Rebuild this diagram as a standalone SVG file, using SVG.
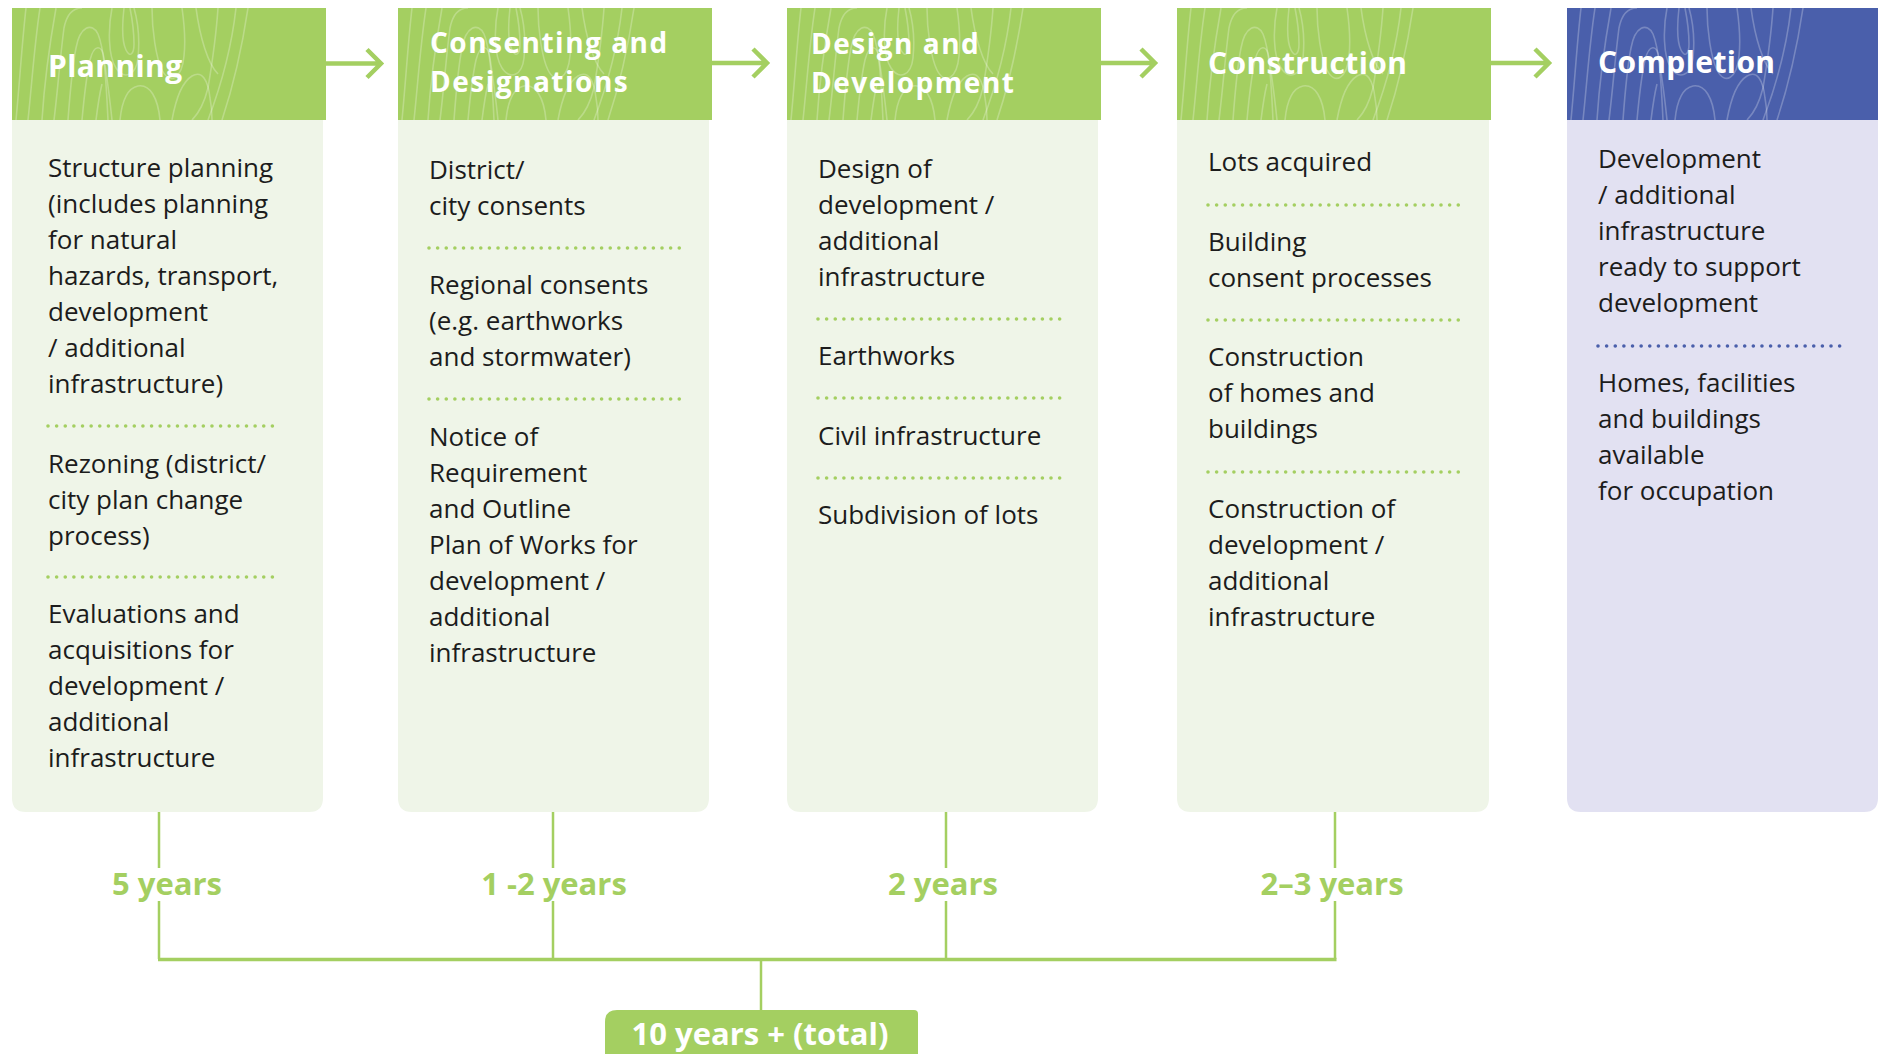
<svg xmlns="http://www.w3.org/2000/svg" xmlns:xlink="http://www.w3.org/1999/xlink" width="1878" height="1054" viewBox="0 0 1878 1054">
<style>
.hg{fill:#a4cf61}
.hb{fill:#4a5fab}
.bg{fill:#eff5e8}
.bb{fill:#e2e1f2}
.ht{font-family:"Open Sans","Liberation Sans",sans-serif;font-weight:700;font-size:30px;letter-spacing:0.4px;fill:#ffffff}
.ht2{font-family:"Open Sans","Liberation Sans",sans-serif;font-weight:700;font-size:28px;letter-spacing:1.5px;fill:#ffffff}
.bt{font-family:"Open Sans","Liberation Sans",sans-serif;font-size:26px;fill:#1c1c1c}
.dg{stroke:#a4cf61;stroke-width:3.6;stroke-linecap:round;stroke-dasharray:0 8.63;fill:none}
.db{stroke:#4a5fab;stroke-width:3.6;stroke-linecap:round;stroke-dasharray:0 8.63;fill:none}
.arr{stroke:#a4cf61;stroke-width:4.5;fill:none;stroke-linejoin:miter}
.tl{stroke:#a4cf61;stroke-width:2.5;fill:none}
.yr{font-family:"Open Sans","Liberation Sans",sans-serif;font-weight:700;font-size:31px;fill:#a4cf61;text-anchor:middle}
.tot{font-family:"Open Sans","Liberation Sans",sans-serif;font-weight:700;font-size:31px;fill:#ffffff;text-anchor:middle}
</style>
<defs>
<symbol id="grain" viewBox="0 0 314 112" width="314" height="112">
<g fill="none" stroke="#ffffff" stroke-opacity="0.25" stroke-width="1.6">
<path d="M4 112 C8 70 10 35 14 0"/>
<path d="M16 112 C20 75 22 40 28 0"/>
<path d="M30 112 C32 80 36 45 44 0"/>
<path d="M42 112 C46 80 48 50 52 20 C55 5 62 0 70 0"/>
<path d="M56 112 C58 85 60 60 64 40 C68 18 80 14 86 26 C92 40 94 70 96 112"/>
<path d="M70 112 C72 90 74 70 78 52 C82 36 90 36 92 50 C95 70 98 92 100 112"/>
<path d="M84 112 C86 96 88 84 90 76"/>
<path d="M100 0 C96 20 96 48 104 60 C112 72 124 68 126 50 C128 30 126 14 122 0"/>
<path d="M112 0 C110 18 110 34 114 42 C118 50 122 46 122 36 C122 22 120 10 118 0"/>
<path d="M108 112 C110 92 116 80 126 78 C138 76 146 90 148 112"/>
<path d="M140 0 C140 22 144 50 150 62 C158 78 170 70 172 48 C174 30 172 14 170 0"/>
<path d="M160 112 C164 90 170 74 180 68 C190 62 196 72 198 90 C200 100 200 106 200 112"/>
<path d="M184 0 C188 30 196 56 206 66"/>
<path d="M206 0 C204 30 200 56 196 80 C192 96 186 106 180 112"/>
<path d="M224 0 C220 36 212 70 196 112"/>
<path d="M236 0 C230 40 222 76 210 112"/>
</g>
</symbol>
</defs>

<g id="connectors">
<path class="arr" d="M326 63.5 H381 M367 49.5 L381 63.5 L367 77.5"/>
<path class="arr" d="M712 63 H767 M753 49 L767 63 L753 77"/>
<path class="arr" d="M1101 63 H1155 M1141 49 L1155 63 L1141 77"/>
<path class="arr" d="M1491 63 H1549 M1535 49 L1549 63 L1535 77"/>
<path class="tl" d="M159 812 V868 M159 901 V959"/>
<path class="tl" d="M553 812 V868 M553 901 V959"/>
<path class="tl" d="M946 812 V868 M946 901 V959"/>
<path class="tl" d="M1335 812 V868 M1335 901 V959"/>
<path d="M158 959.5 H1336.5" stroke="#a4cf61" stroke-width="3.5" fill="none"/>
<path class="tl" d="M761 959 V1010"/>
</g>

<g id="planning">
<rect class="hg" x="12" y="8" width="314" height="112"/>
<use xlink:href="#grain" x="12" y="8"/>
<path class="bg" d="M12 120 H323 V798 Q323 812 309 812 H26 Q12 812 12 798 Z"/>
<text class="ht" x="48" y="77">Planning</text>
<text class="bt" x="48" y="177">Structure planning</text>
<text class="bt" x="48" y="213">(includes planning</text>
<text class="bt" x="48" y="249">for natural</text>
<text class="bt" x="48" y="285">hazards, transport,</text>
<text class="bt" x="48" y="321">development</text>
<text class="bt" x="48" y="357">/ additional</text>
<text class="bt" x="48" y="393">infrastructure)</text>
<line class="dg" x1="48" y1="426" x2="281" y2="426"/>
<text class="bt" x="48" y="473">Rezoning (district/</text>
<text class="bt" x="48" y="509">city plan change</text>
<text class="bt" x="48" y="545">process)</text>
<line class="dg" x1="48" y1="577" x2="281" y2="577"/>
<text class="bt" x="48" y="623">Evaluations and</text>
<text class="bt" x="48" y="659">acquisitions for</text>
<text class="bt" x="48" y="695">development /</text>
<text class="bt" x="48" y="731">additional</text>
<text class="bt" x="48" y="767">infrastructure</text>
</g>

<g id="consenting">
<rect class="hg" x="398" y="8" width="314" height="112"/>
<use xlink:href="#grain" x="398" y="8"/>
<path class="bg" d="M398 120 H709 V798 Q709 812 695 812 H412 Q398 812 398 798 Z"/>
<text class="ht2" x="430" y="53">Consenting and</text>
<text class="ht2" x="430" y="92">Designations</text>
<text class="bt" x="429" y="179">District/</text>
<text class="bt" x="429" y="215">city consents</text>
<line class="dg" x1="429" y1="248" x2="680" y2="248"/>
<text class="bt" x="429" y="294">Regional consents</text>
<text class="bt" x="429" y="330">(e.g. earthworks</text>
<text class="bt" x="429" y="366">and stormwater)</text>
<line class="dg" x1="429" y1="399" x2="680" y2="399"/>
<text class="bt" x="429" y="446">Notice of</text>
<text class="bt" x="429" y="482">Requirement</text>
<text class="bt" x="429" y="518">and Outline</text>
<text class="bt" x="429" y="554">Plan of Works for</text>
<text class="bt" x="429" y="590">development /</text>
<text class="bt" x="429" y="626">additional</text>
<text class="bt" x="429" y="662">infrastructure</text>
</g>

<g id="design">
<rect class="hg" x="787" y="8" width="314" height="112"/>
<use xlink:href="#grain" x="787" y="8"/>
<path class="bg" d="M787 120 H1098 V798 Q1098 812 1084 812 H801 Q787 812 787 798 Z"/>
<text class="ht2" x="811" y="54">Design and</text>
<text class="ht2" x="811" y="93">Development</text>
<text class="bt" x="818" y="178">Design of</text>
<text class="bt" x="818" y="214">development /</text>
<text class="bt" x="818" y="250">additional</text>
<text class="bt" x="818" y="286">infrastructure</text>
<line class="dg" x1="818" y1="319" x2="1068" y2="319"/>
<text class="bt" x="818" y="365">Earthworks</text>
<line class="dg" x1="818" y1="398" x2="1068" y2="398"/>
<text class="bt" x="818" y="445">Civil infrastructure</text>
<line class="dg" x1="818" y1="478" x2="1068" y2="478"/>
<text class="bt" x="818" y="524">Subdivision of lots</text>
</g>

<g id="construction">
<rect class="hg" x="1177" y="8" width="314" height="112"/>
<use xlink:href="#grain" x="1177" y="8"/>
<path class="bg" d="M1177 120 H1489 V798 Q1489 812 1475 812 H1191 Q1177 812 1177 798 Z"/>
<text class="ht" x="1208" y="74">Construction</text>
<text class="bt" x="1208" y="171">Lots acquired</text>
<line class="dg" x1="1208" y1="205" x2="1460" y2="205"/>
<text class="bt" x="1208" y="251">Building</text>
<text class="bt" x="1208" y="287">consent processes</text>
<line class="dg" x1="1208" y1="320" x2="1460" y2="320"/>
<text class="bt" x="1208" y="366">Construction</text>
<text class="bt" x="1208" y="402">of homes and</text>
<text class="bt" x="1208" y="438">buildings</text>
<line class="dg" x1="1208" y1="472" x2="1460" y2="472"/>
<text class="bt" x="1208" y="518">Construction of</text>
<text class="bt" x="1208" y="554">development /</text>
<text class="bt" x="1208" y="590">additional</text>
<text class="bt" x="1208" y="626">infrastructure</text>
</g>

<g id="completion">
<rect class="hb" x="1567" y="8" width="311" height="112"/>
<use xlink:href="#grain" x="1567" y="8"/>
<path class="bb" d="M1567 120 H1878 V798 Q1878 812 1864 812 H1581 Q1567 812 1567 798 Z"/>
<text class="ht" x="1598" y="73">Completion</text>
<text class="bt" x="1598" y="168">Development</text>
<text class="bt" x="1598" y="204">/ additional</text>
<text class="bt" x="1598" y="240">infrastructure</text>
<text class="bt" x="1598" y="276">ready to support</text>
<text class="bt" x="1598" y="312">development</text>
<line class="db" x1="1598" y1="346" x2="1848" y2="346"/>
<text class="bt" x="1598" y="392">Homes, facilities</text>
<text class="bt" x="1598" y="428">and buildings</text>
<text class="bt" x="1598" y="464">available</text>
<text class="bt" x="1598" y="500">for occupation</text>
</g>

<g id="durations">
<text class="yr" x="167" y="895">5 years</text>
<text class="yr" x="554" y="895">1 -2 years</text>
<text class="yr" x="943" y="895">2 years</text>
<text class="yr" x="1332" y="895">2–3 years</text>
</g>

<g id="total">
<path class="hg" d="M605 1054 V1022 Q605 1010 617 1010 H914 Q918 1010 918 1014 V1054 Z"/>
<text class="tot" x="760" y="1045">10 years + (total)</text>
</g>
</svg>
